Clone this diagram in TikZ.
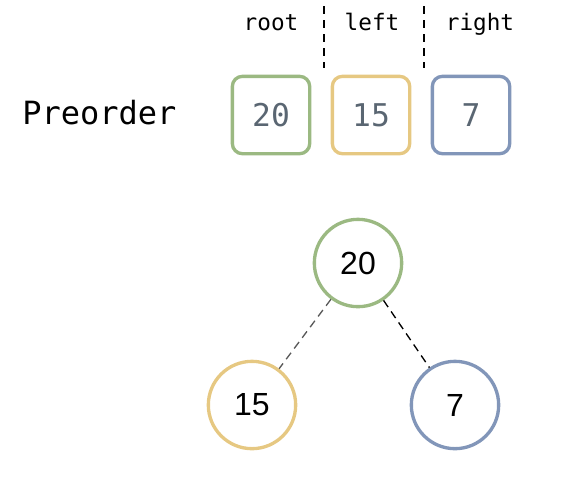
\documentclass[tikz,border=0pt]{standalone}
\usepackage{fontspec}
\setmainfont{Liberation Sans}
\newfontfamily\monof{DejaVu Sans Mono}
\definecolor{cgreen}{RGB}{155,185,130}
\definecolor{cyellow}{RGB}{230,200,130}
\definecolor{cblue}{RGB}{130,150,185}
\definecolor{cnum}{RGB}{90,102,114}
\begin{document}
\begin{tikzpicture}[x=0.75pt,y=-0.75pt,
  box/.style={draw=#1,line width=2.5pt,rounded corners=7.5pt,minimum size=58pt,inner sep=0pt,
    font=\monof\fontsize{23.5}{23.5}\selectfont,text=cnum},
  tnode/.style={circle,draw=#1,line width=2.5pt,minimum size=65.5pt,inner sep=0pt,
    font=\fontsize{24}{24}\selectfont},
  lab/.style={font=\monof\fontsize{17}{17}\selectfont,anchor=base,inner sep=0pt},
  sep/.style={dashed,line width=1pt,dash pattern=on 6pt off 4.5pt}]
\useasboundingbox (0,0) rectangle (584,480);
\node[font=\monof\fontsize{24}{24}\selectfont,anchor=base west,inner sep=0pt] (pre) at (22,124) {Preorder};
\node[box=cgreen] (b1) at (271,115) {20};
\node[box=cyellow] (b2) at (371,115) {15};
\node[box=cblue] (b3) at (471,115) {7};
\node[lab] (l1) at (271,30) {root};
\node[lab] (l2) at (372,30) {left};
\node[lab] (l3) at (480,30) {right};
\coordinate (s1a) at (324,6);
\coordinate (s1b) at (324,68);
\coordinate (s2a) at (424,6);
\coordinate (s2b) at (424,68);
\draw[sep] (s1a) -- (s1b);
\draw[sep] (s2a) -- (s2b);
\node[tnode=cgreen] (r) at (358,263) {20};
\node[tnode=cyellow] (a) at (252,405) {15};
\node[tnode=cblue] (c) at (455,405) {7};
\draw[dashed,line width=1pt,draw=black!65,dash pattern=on 6pt off 4pt] (r) -- (a);
\draw[dashed,line width=1pt,dash pattern=on 6pt off 4pt] (r) -- (c);
\end{tikzpicture}
\end{document}
